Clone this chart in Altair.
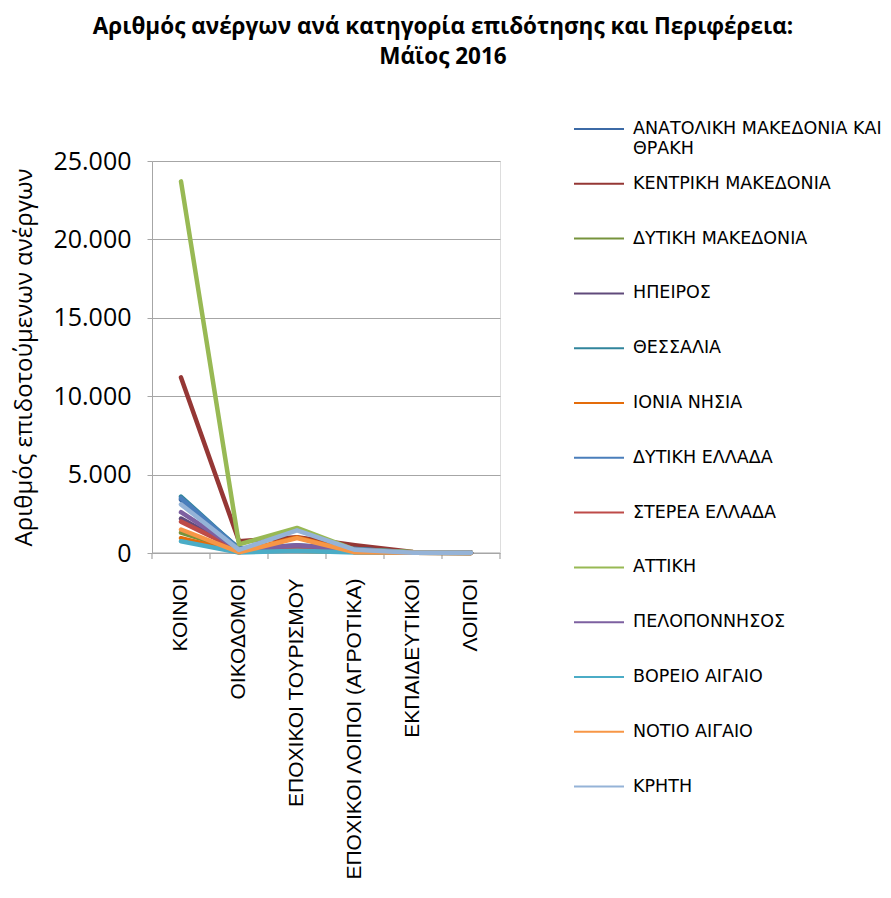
import altair as alt
import pandas as pd

categories = ["ΚΟΙΝΟΙ", "ΟΙΚΟΔΟΜΟΙ", "ΕΠΟΧΙΚΟΙ ΤΟΥΡΙΣΜΟΥ",
              "ΕΠΟΧΙΚΟΙ ΛΟΙΠΟΙ (ΑΓΡΟΤΙΚΑ)", "ΕΚΠΑΙΔΕΥΤΙΚΟΙ", "ΛΟΙΠΟΙ"]

regions = ["ΑΝΑΤΟΛΙΚΗ ΜΑΚΕΔΟΝΙΑ ΚΑΙ ΘΡΑΚΗ", "ΚΕΝΤΡΙΚΗ ΜΑΚΕΔΟΝΙΑ", "ΔΥΤΙΚΗ ΜΑΚΕΔΟΝΙΑ",
           "ΗΠΕΙΡΟΣ", "ΘΕΣΣΑΛΙΑ", "ΙΟΝΙΑ ΝΗΣΙΑ", "ΔΥΤΙΚΗ ΕΛΛΑΔΑ", "ΣΤΕΡΕΑ ΕΛΛΑΔΑ",
           "ΑΤΤΙΚΗ", "ΠΕΛΟΠΟΝΝΗΣΟΣ", "ΒΟΡΕΙΟ ΑΙΓΑΙΟ", "ΝΟΤΙΟ ΑΙΓΑΙΟ", "ΚΡΗΤΗ"]

anat_makedonia_thraki = [3400, 300, 400, 200, 30, 10]
kentriki_makedonia = [11200, 750, 1000, 500, 60, 20]
dytiki_makedonia = [1300, 150, 150, 80, 15, 5]
ipeiros = [2200, 150, 450, 100, 20, 5]
thessalia = [3600, 250, 200, 250, 30, 10]
ionia_nisia = [950, 50, 1000, 50, 10, 5]
dytiki_ellada = [3500, 250, 500, 250, 30, 10]
sterea_ellada = [2000, 200, 300, 150, 20, 10]
attiki = [23700, 550, 1600, 200, 60, 30]
peloponnisos = [2600, 200, 500, 200, 20, 10]
voreio_aigaio = [750, 30, 150, 30, 10, 5]
notio_aigaio = [1500, 50, 950, 50, 10, 5]
kriti = [3100, 200, 1450, 200, 20, 10]

series = [anat_makedonia_thraki, kentriki_makedonia, dytiki_makedonia, ipeiros,
          thessalia, ionia_nisia, dytiki_ellada, sterea_ellada, attiki,
          peloponnisos, voreio_aigaio, notio_aigaio, kriti]

colors = ["#3C6AA6", "#953735", "#77933C", "#604A7B", "#31859C", "#E46C0A",
          "#4A7EBB", "#BE4B48", "#98B954", "#7D60A0", "#4BACC6", "#F79646", "#95B3D7"]

rows = []
for ri, (r, vals) in enumerate(zip(regions, series)):
    for ci, (c, v) in enumerate(zip(categories, vals)):
        rows.append({"region": r, "category": c, "value": v, "order": ri})
df = pd.DataFrame(rows)

W, H = 348, 392
PAD_L, PAD_T = 144, 153
PAD_R = 891 - 16 - PAD_L - W
PAD_B = 898 - 16 - PAD_T - H
GRID = "#A6A6A6"

xscale = alt.Scale(domain=categories, paddingInner=0, paddingOuter=0)
yscale = alt.Scale(domain=[0, 25000], nice=False)

legend_label = ("datum.label == 'ΑΝΑΤΟΛΙΚΗ ΜΑΚΕΔΟΝΙΑ ΚΑΙ ΘΡΑΚΗ' ? "
                "['ΑΝΑΤΟΛΙΚΗ ΜΑΚΕΔΟΝΙΑ ΚΑΙ', 'ΘΡΑΚΗ'] : [datum.label, ' ']")

lines = alt.Chart(df).mark_line(strokeWidth=4.5, strokeJoin="round", strokeCap="round").encode(
    x=alt.X("category:N", scale=xscale, sort=categories,
            axis=alt.Axis(title=None, labelAngle=-90, labelAlign="right", labelBaseline="middle",
                          labelFont="Liberation Sans", labelFontSize=21, labelColor="#000000",
                          labelPadding=25, ticks=False, domain=False, grid=False, labelLimit=600)),
    y=alt.Y("value:Q", scale=yscale,
            axis=alt.Axis(title="Αριθμός επιδοτούμενων ανέργων", values=[0, 5000, 10000, 15000, 20000, 25000],
                          labelExpr="replace(format(datum.value, ','), ',', '.')",
                          labelFont="Open Sans", labelFontSize=25, labelColor="#000000",
                          labelPadding=16, tickSize=5, tickColor=GRID, domainColor=GRID,
                          gridColor=GRID, gridWidth=1.2,
                          titleFont="Open Sans", titleFontSize=24, titleFontWeight="normal",
                          titleColor="#000000", titleAngle=-90, titleX=-128, titleY=196,
                          titleAlign="center", titleBaseline="middle")),
    color=alt.Color("region:N", sort=regions,
                    scale=alt.Scale(domain=regions, range=colors),
                    legend=alt.Legend(title=None, orient="none", legendX=421, legendY=-58,
                                      symbolType="stroke", symbolSize=2500, symbolStrokeWidth=2,
                                      labelFont="DejaVu Sans", labelFontSize=17.5, labelColor="#000000",
                                      labelLimit=0, rowPadding=0.8, labelOffset=8,
                                      labelExpr=legend_label)),
    order=alt.Order("order:Q"),
)

cat_df = pd.DataFrame({"category": categories})
ticks = alt.Chart(cat_df).mark_rule(color=GRID, strokeWidth=1.2).encode(
    x=alt.X("category:N", scale=xscale, sort=categories, bandPosition=0),
    y=alt.value(H), y2=alt.value(H + 6),
)
last_tick = alt.Chart(cat_df.tail(1)).mark_rule(color=GRID, strokeWidth=1.2).encode(
    x=alt.X("category:N", scale=xscale, sort=categories, bandPosition=1),
    y=alt.value(H), y2=alt.value(H + 6),
)
baseline = alt.Chart(cat_df.head(1)).mark_rule(color=GRID, strokeWidth=1.2).encode(
    x=alt.value(0), x2=alt.value(W), y=alt.value(H),
)

chart = alt.layer(baseline, ticks, last_tick, lines).properties(
    width=W, height=H,
    autosize=alt.AutoSizeParams(type="none"),
    padding={"left": PAD_L, "top": PAD_T, "right": PAD_R, "bottom": PAD_B},
    title=alt.TitleParams(text=["Αριθμός ανέργων ανά κατηγορία επιδότησης και Περιφέρεια:", "Μάϊος  2016"],
                          font="Open Sans", fontSize=22.5, fontWeight="bold", color="#000000",
                          anchor="middle", dx=117, offset=35, lineHeight=30),
).configure_view(stroke=None).configure(background="white")

chart.save("out.html", embed_options={"renderer": "svg", "actions": False})
